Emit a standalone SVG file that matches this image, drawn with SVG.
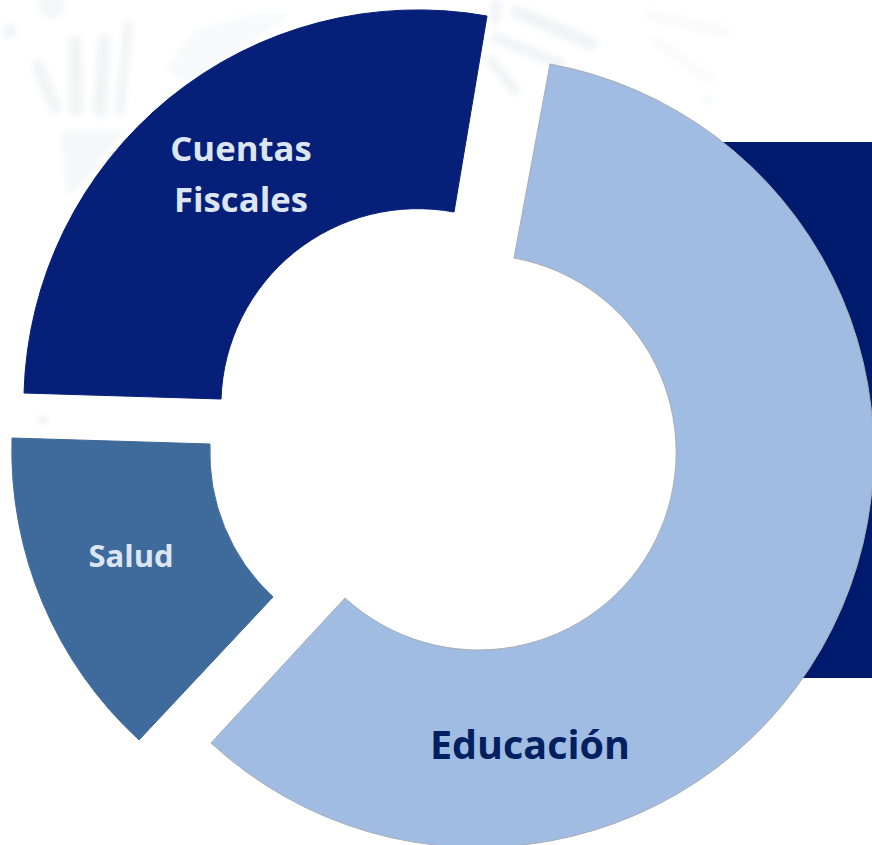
<svg xmlns="http://www.w3.org/2000/svg" width="872" height="845" viewBox="0 0 872 845">
<defs><filter id="soft" x="-10%" y="-10%" width="120%" height="120%"><feGaussianBlur stdDeviation="3"/></filter></defs>
<style>
.lbl{font-family:"Open Sans","Noto Sans","Liberation Sans",sans-serif;font-weight:700;text-anchor:middle}
.wm{fill:none;stroke:#f2f3f5;stroke-linecap:round}
.wmf{fill:none;stroke:#fafafb;stroke-linecap:round}
.seg{stroke-width:1}
</style>
<rect width="872" height="845" fill="#ffffff"/>
<g id="watermark" filter="url(#soft)">
<path class="wm" stroke-width="12" d="M38 66L55 108"/>
<path class="wm" stroke-width="13" d="M75 42L76 110"/>
<path class="wm" stroke-width="13" d="M104 42L100 112"/>
<path class="wm" stroke-width="9" d="M128 25L120 112"/>
<circle cx="10" cy="31" r="7" fill="#f1f2f5"/>
<circle cx="52" cy="5" r="14" fill="#f5f6f8"/>
<path d="M60 132L125 130L90 175L68 195Z" fill="#f6f7f8"/>
<path d="M165 70L195 30L250 15L290 12L250 45L190 85Z" fill="#f8f9fa"/>
<path class="wm" stroke-width="13" d="M517 12L592 44"/>
<path class="wm" stroke-width="11" d="M497 38L560 64"/>
<path class="wm" stroke-width="10" d="M490 60L515 90"/>
<path d="M490 0L505 0L500 25L490 25Z" fill="#f3f6f9"/>
<path class="wmf" stroke-width="12" d="M650 15L725 32"/>
<path class="wmf" stroke-width="10" d="M655 40L710 80"/>
<circle cx="707" cy="100" r="3" fill="#eeeff2"/>
<circle cx="43" cy="420" r="5" fill="#f1f1f3"/>
</g>
<rect id="back-panel" x="722" y="142" width="150" height="536" fill="#001a6e"/>
<g id="connectors"></g>
<g id="educacion">
<path class="seg" d="M550 64A395 395 0 1 1 211 743L345 598A197.6 197.6 0 1 0 514 258Z" fill="#a0bce3" stroke="#a9adb3"/>
<text class="lbl" x="530" y="759" font-size="39.5" fill="#002060">Educación</text>
</g>
<g id="cuentas-fiscales">
<path class="seg" d="M24 393A394 394 0 0 1 487 16L454 212A197 197 0 0 0 221 399Z" fill="#061f78" stroke="#061f78"/>
<text class="lbl" x="241" y="161" font-size="34.7" fill="#dce6f2">Cuentas</text>
<text class="lbl" x="241" y="212" font-size="34.7" fill="#dce6f2">Fiscales</text>
</g>
<g id="salud">
<path class="seg" d="M12 438A394 394 0 0 0 139 740L273 597A197 197 0 0 1 210 444Z" fill="#3f6a9c" stroke="#3f6a9c"/>
<text class="lbl" x="131" y="567" font-size="31" fill="#dce6f2">Salud</text>
</g>
</svg>
